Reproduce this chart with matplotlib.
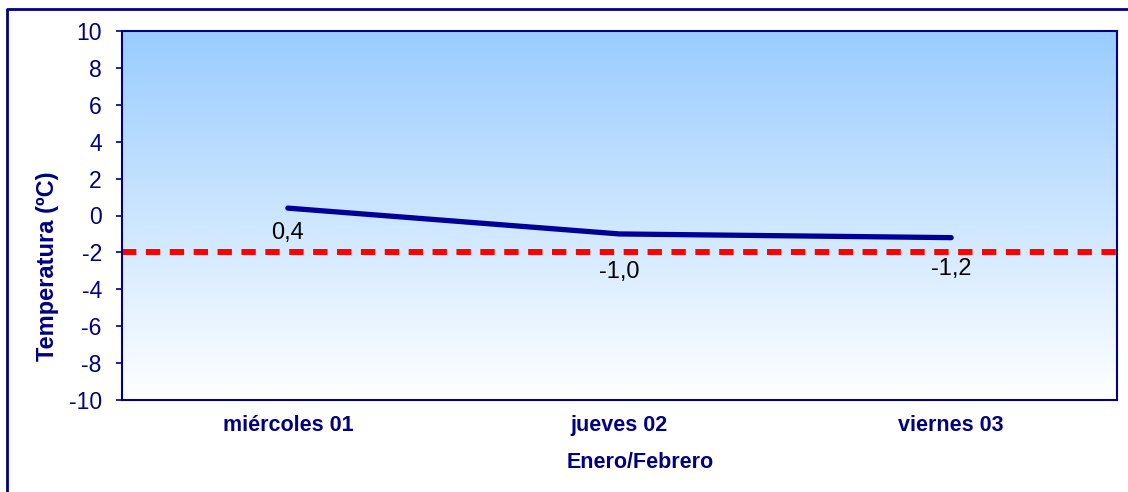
import numpy as np
import matplotlib.pyplot as plt
from matplotlib.lines import Line2D
from matplotlib.colors import LinearSegmentedColormap

plt.rcParams['font.family'] = ['Liberation Sans', 'DejaVu Sans']

# Data
dias = ['miércoles 01', 'jueves 02', 'viernes 03']
temperatura = [0.4, -1.0, -1.2]
etiquetas = ['0,4', '-1,0', '-1,2']
umbral = -2.0
yticks = np.arange(-10, 11, 2)

navy = '#000080'
W, H = 1128, 492
fig = plt.figure(figsize=(W / 100, H / 100), dpi=100)
ax = fig.add_axes([122 / W, 1 - 400 / H, (1117 - 122) / W, (400 - 31) / H])

x = np.arange(len(dias))
ax.set_xlim(-0.5, len(dias) - 0.5)
ax.set_ylim(-10, 10)

# gradient background, light blue at top to white at bottom
cmap = LinearSegmentedColormap.from_list('bg', ['#ffffff', '#99ccff'])
grad = np.linspace(0, 1, 256).reshape(-1, 1)
ax.imshow(grad, cmap=cmap, aspect='auto', origin='lower',
          extent=[-0.5, len(dias) - 0.5, -10, 10], zorder=0)

ax.axhline(umbral, color='#ff0000', lw=4.3, linestyle=(0, (2.4, 1.6)), zorder=2)
ax.plot(x, temperatura, color='#000099', lw=3.8, solid_capstyle='round', zorder=3)

# data labels below each point
offsets = [-25, -38, -31]
for xi, yi, lab, off in zip(x, temperatura, etiquetas, offsets):
    ax.annotate(lab, (xi, yi), xytext=(0, off * 0.72), textcoords='offset points',
                ha='center', va='center', fontsize=17, color='black')

ax.set_yticks(yticks)
ax.set_yticklabels([str(v) for v in yticks], fontsize=16.5, color=navy)
ax.set_xticks(x)
ax.set_xticklabels(dias, fontsize=15.5, fontweight='bold', color=navy)
ax.tick_params(axis='y', direction='out', length=4.5, width=1.2, color=navy, pad=10)
ax.tick_params(axis='x', length=0, pad=11)
for s in ax.spines.values():
    s.set_color(navy)
    s.set_linewidth(1.5)

fig.text(48 / W, 1 - 266 / H, 'Temperatura (ºC)', rotation=90, ha='center', va='center',
         fontsize=17, fontweight='bold', color=navy)
fig.text(640 / W, 1 - 462 / H, 'Enero/Febrero', ha='center', va='center',
         fontsize=15.5, fontweight='bold', color=navy)

# outer border (top and left visible)
fig.add_artist(Line2D([7 / W, 7 / W, 1.0], [0.0, 1 - 9 / H, 1 - 9 / H],
                      transform=fig.transFigure, color=navy, lw=2))

fig.savefig('out.png', dpi=100)
